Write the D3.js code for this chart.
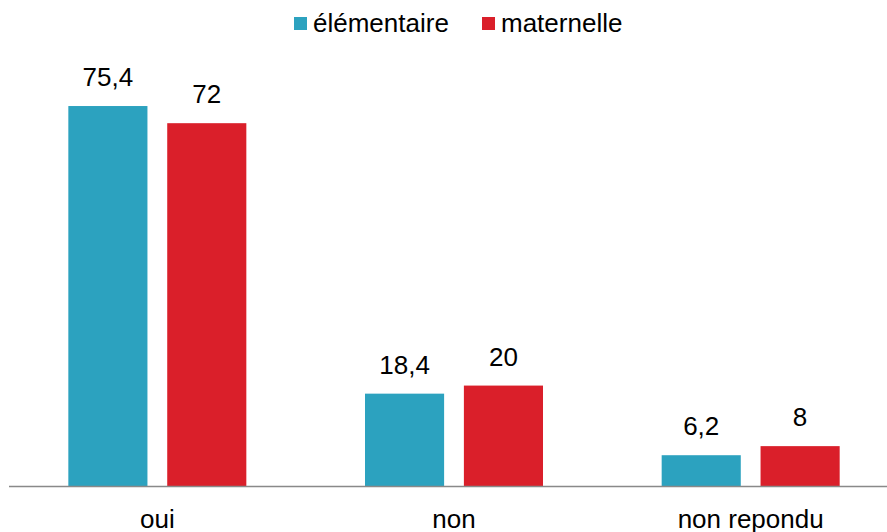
<!DOCTYPE html>
<html>
<head>
<meta charset="utf-8">
<script src="https://cdn.jsdelivr.net/npm/d3@7"></script>
<style>
  body { margin: 0; background: #fff; }
  text { font-family: "Liberation Sans", Arial, sans-serif; }
</style>
</head>
<body>
<script>
'use strict';

var categories = ["oui", "non", "non repondu"];
var series = ["élémentaire", "maternelle"];
var elementaire = [75.4, 18.4, 6.2];
var maternelle = [72, 20, 8];
var colors = ["#2ca2bf", "#da1f2a"];

var width = 887, height = 532;
var baseline = 486.5;

var svg = d3.select("body").append("svg")
   .attr("width", width)
   .attr("height", height);

var x0 = d3.scaleBand()
   .domain(categories)
   .range([9, 899])
   .paddingInner(0.4)
   .paddingOuter(0.2);

var x1 = d3.scaleBand()
   .domain(series)
   .range([0, x0.bandwidth()])
   .paddingInner(0.2);

var y = d3.scaleLinear()
   .domain([0, 80])
   .range([baseline, baseline - 80 * 5.046]);

var rows = categories.map(function(c, i){
   return { cat: c, vals: [elementaire[i], maternelle[i]] };
});

var groups = svg.selectAll("g.grp")
   .data(rows)
   .enter()
   .append("g")
   .attr("class", "grp")
   .attr("transform", function(d){ return "translate(" + x0(d.cat) + ",0)"; });

var bars = groups.selectAll("rect")
   .data(function(d){ return d.vals.map(function(v, j){ return { s: series[j], v: v, j: j }; }); })
   .enter();

bars.append("rect")
   .attr("x", function(d){ return x1(d.s); })
   .attr("y", function(d){ return y(d.v); })
   .attr("width", x1.bandwidth())
   .attr("height", function(d){ return baseline - y(d.v); })
   .attr("fill", function(d){ return colors[d.j]; });

bars.append("text")
   .attr("x", function(d){ return x1(d.s) + x1.bandwidth() / 2; })
   .attr("y", function(d){ return y(d.v) - 20; })
   .attr("text-anchor", "middle")
   .attr("font-size", "26px")
   .attr("fill", "#000")
   .text(function(d){ return String(d.v).replace(".", ","); });

// axe horizontal
var xAxis = d3.axisBottom(x0).tickSize(0).tickPadding(0);
var axisG = svg.append("g")
   .attr("transform", "translate(0," + baseline + ")")
   .call(xAxis);
axisG.select(".domain")
   .attr("d", "M9,0H887")
   .attr("stroke", "#898989")
   .attr("stroke-width", 1.5);
axisG.selectAll(".tick text")
   .attr("dy", null)
   .attr("y", 41)
   .attr("font-size", "26px")
   .attr("font-family", "Liberation Sans, Arial, sans-serif")
   .attr("fill", "#000");

// légende
var legendX = [294, 482];
var legend = svg.selectAll("g.leg")
   .data(series)
   .enter()
   .append("g")
   .attr("class", "leg")
   .attr("transform", function(d, i){ return "translate(" + legendX[i] + ",17)"; });

legend.append("rect")
   .attr("width", 13)
   .attr("height", 13)
   .attr("fill", function(d, i){ return colors[i]; });

legend.append("text")
   .attr("x", 19)
   .attr("y", 15)
   .attr("font-size", "26px")
   .attr("fill", "#000")
   .text(function(d){ return d; });
</script>
</body>
</html>
